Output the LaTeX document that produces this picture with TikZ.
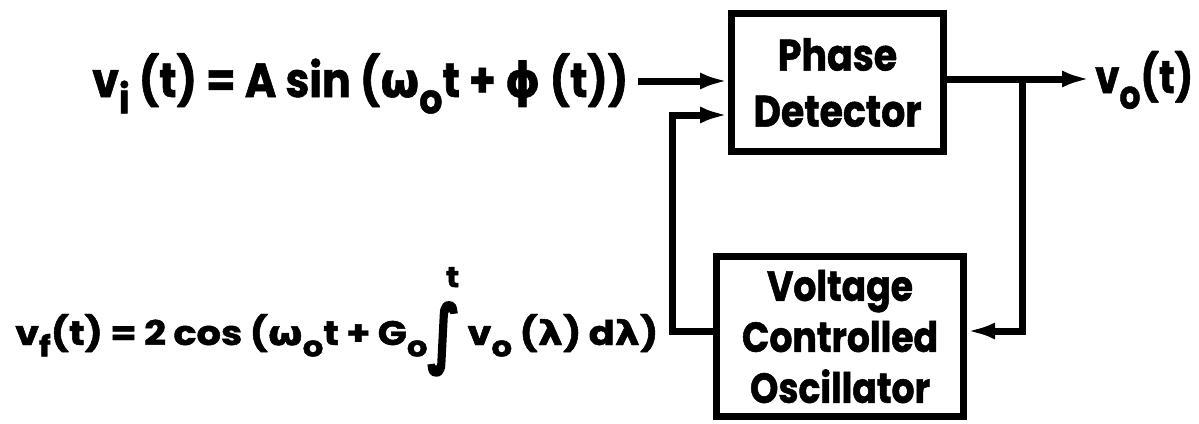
\documentclass[tikz,border=0pt]{standalone}
\usepackage{fontspec}
\usepackage{graphicx}
\setmainfont{Poppins}[FakeStretch=0.86, BoldFeatures={FakeBold=1.2}]
\newfontfamily\gk{DejaVu Sans}[FakeStretch=0.9, BoldFeatures={FakeBold=1.2}]
\newfontfamily\gkheavy{DejaVu Sans}[FakeBold=3]
\usetikzlibrary{arrows.meta}
% lowered subscript letter
\newcommand{\lo}[1]{\raisebox{-0.34em}{\scalebox{0.85}{#1}}}
% stretch a line of lettering to a given width, keeping its height
\newcommand{\fitw}[2]{\resizebox{#1}{\height}{#2}}
\tikzset{
  blk/.style={draw, line width=7pt, align=center, inner sep=0pt,
    font=\fontsize{44}{56}\selectfont\bfseries},
  wire/.style={line width=7pt},
  arr/.style={wire, -{Latex[length=28pt,width=17pt]}},
  eqn/.style={inner sep=0pt, font=\bfseries},
}
\begin{document}
\begin{tikzpicture}[x=1pt, y=-1pt]
\useasboundingbox (0,0) rectangle (1199,423);

\node[blk, minimum width=212pt, minimum height=138pt] (pd) at (837.5,82.5) {Phase\\Detector};
\node[blk, minimum width=247pt, minimum height=160pt,
      font=\fontsize{42}{51}\selectfont\bfseries] (vco) at (840,336.5) {Voltage\\Controlled\\Oscillator};

\node[eqn, anchor=base west] (vi) at (92,97)
  {\fitw{536pt}{\fontsize{48}{50}\selectfont v\lo{i}\ (t)\ =\ A\ sin\ ({\gk ω}\lo{o}t\ +\ {\gk ϕ}\ (t))}};
\node[eqn, anchor=base west] (vf) at (15,345)
  {\fitw{643pt}{\fontsize{34}{36}\selectfont v\lo{f}(t)\,=\,2\,cos\,({\gk ω}\lo{o}t\,+\,G\lo{o}\raisebox{-0.4em}{\scalebox{1.2}[2.2]{\gkheavy ∫}}\makebox[0pt][r]{\raisebox{1.7em}{\scalebox{0.85}{t}}\hspace{0.02em}}\,v\lo{o}\,({\gk λ})\,d{\gk λ})}};
\node[eqn, anchor=base west] (vo) at (1095,93)
  {\fitw{98pt}{\fontsize{46}{48}\selectfont v\lo{o}(t)}};

\coordinate (in1) at (638,81);
\coordinate (fb) at (672,115);
\coordinate (j) at (1022,79);
\coordinate (out) at (1090,79);
\coordinate (vin) at (1022,331);
\coordinate (vout) at (672,331);

\draw[arr] (in1) -- (in1 -| pd.west);
\draw[wire] (pd.east |- j) -- (j);
\draw[arr] (j) -- (out);
\draw[arr] (j) -- (vin) -- (vin -| vco.east);
\draw[arr, line join=miter] (vco.west |- vout) -- (vout) -- (fb) -- (fb -| pd.west);
\end{tikzpicture}
\end{document}
